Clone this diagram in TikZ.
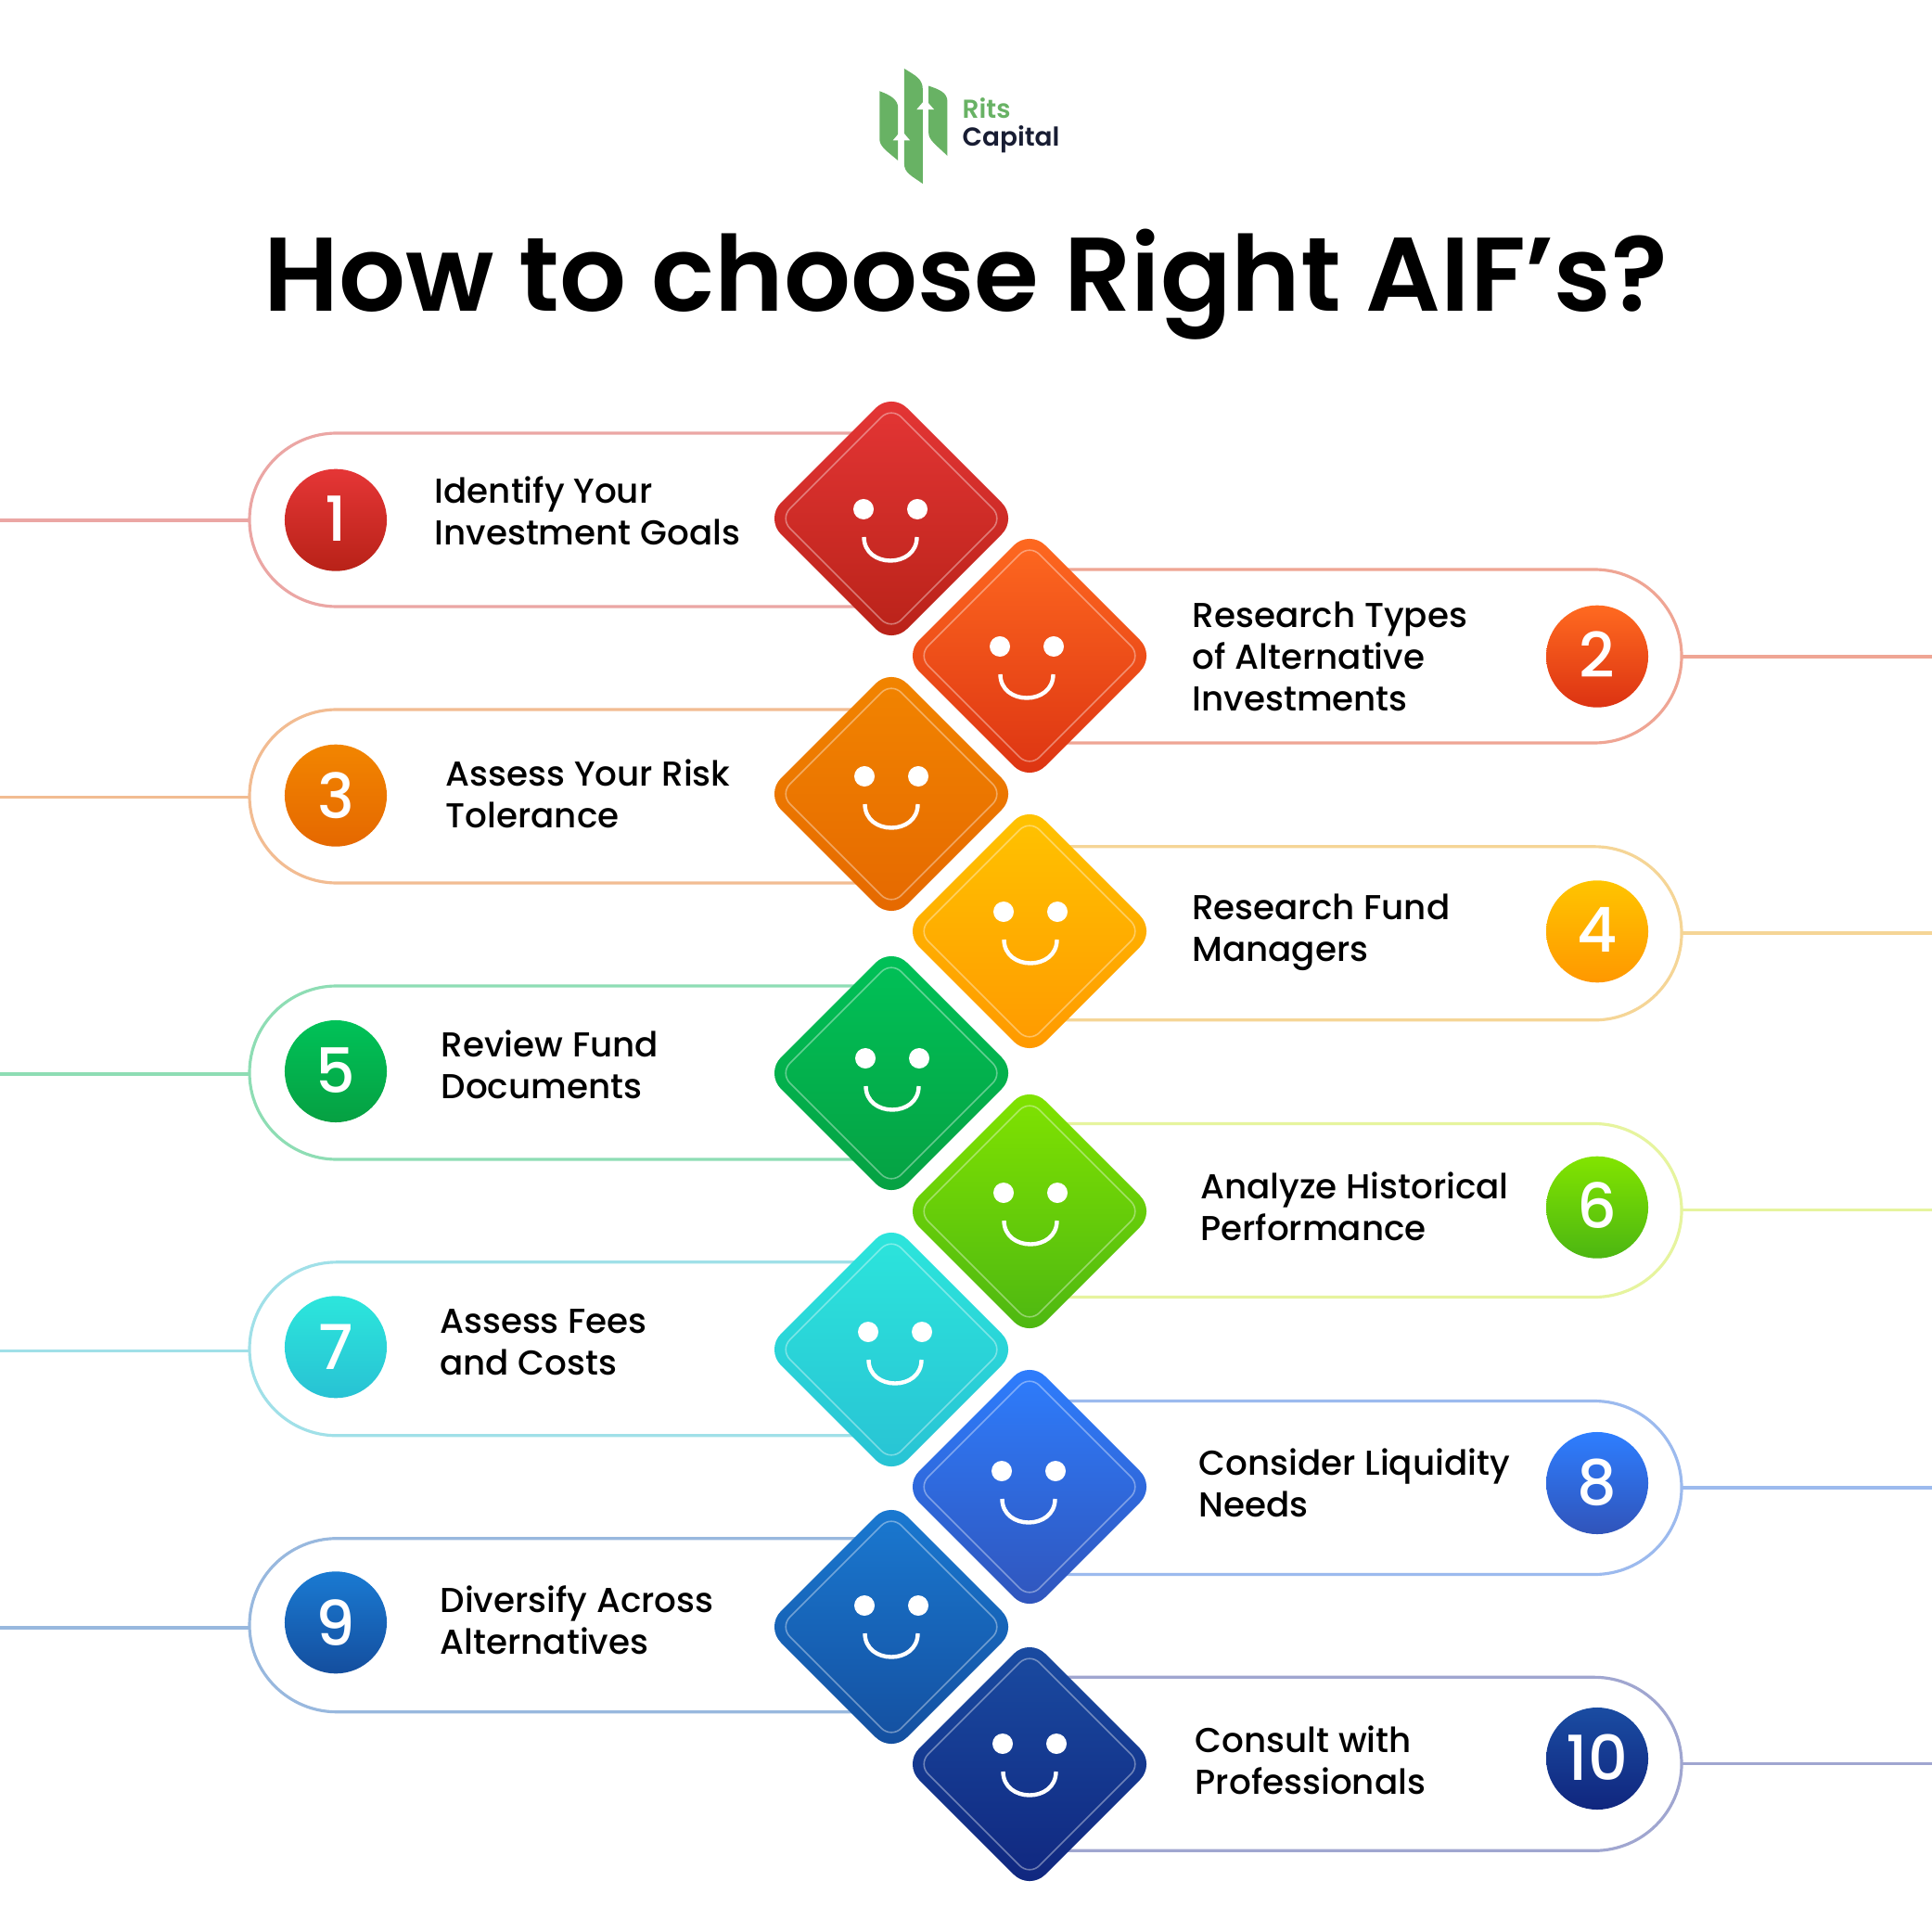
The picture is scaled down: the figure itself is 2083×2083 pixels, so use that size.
\documentclass[tikz,border=0pt]{standalone}
\usepackage{fontspec}
\setmainfont{Poppins}
\newfontfamily\medfont{Poppins Medium}
\newfontfamily\semifont{Poppins SemiBold}
\definecolor{top1}{HTML}{E53636}\definecolor{bot1}{HTML}{B82218}\definecolor{line1}{HTML}{EBA6A4}
\definecolor{top2}{HTML}{FF6A20}\definecolor{bot2}{HTML}{DC3312}\definecolor{line2}{HTML}{EFA594}
\definecolor{top3}{HTML}{F28500}\definecolor{bot3}{HTML}{E56800}\definecolor{line3}{HTML}{F2BC92}
\definecolor{top4}{HTML}{FFC400}\definecolor{bot4}{HTML}{FF9800}\definecolor{line4}{HTML}{F5D596}
\definecolor{top5}{HTML}{00C258}\definecolor{bot5}{HTML}{06A042}\definecolor{line5}{HTML}{8EDDB4}
\definecolor{top6}{HTML}{82E400}\definecolor{bot6}{HTML}{4CB612}\definecolor{line6}{HTML}{E6F49E}
\definecolor{top7}{HTML}{2CE6DC}\definecolor{bot7}{HTML}{28C2D4}\definecolor{line7}{HTML}{A0E0E8}
\definecolor{top8}{HTML}{2E7EFF}\definecolor{bot8}{HTML}{3054BA}\definecolor{line8}{HTML}{9CBAEE}
\definecolor{top9}{HTML}{1A7AD2}\definecolor{bot9}{HTML}{144E9E}\definecolor{line9}{HTML}{98B8DE}
\definecolor{top10}{HTML}{1A4CA2}\definecolor{bot10}{HTML}{10267E}\definecolor{line10}{HTML}{A0A6D0}
\definecolor{logogreen}{HTML}{68B264}
\definecolor{logonavy}{HTML}{181D33}
\tikzset{
  capline/.style={line width=0.9pt},
  numdisc/.style={circle,minimum size=1.10cm,inner sep=0pt,text=white,
    font=\medfont\fontsize{19}{19}\selectfont},
  itemtext/.style={anchor=west,align=left,inner sep=0pt,text=black,yshift=-0.066cm,
    font=\medfont\fontsize{10.6}{12.75}\selectfont,
    execute at begin node=\strut,execute at end node=\strut},
  facemark/.style={white,line width=1.25pt},
  innerline/.style={draw=white,draw opacity=0.38,line width=0.45pt,rounded corners=0.15cm},
  logobar/.style={fill=logogreen,draw=none},
}
% #1 id, #2 diamond x, #3 diamond y, #4 face x, #5 eye y
\newcommand{\facediamond}[5]{
  \coordinate (d#1) at (#2,#3);
  \coordinate (f#1) at (#4,#5);
  \shade[top color=top#1,bottom color=bot#1,rounded corners=0.24cm]
    ([shift={(0,-136)}]d#1) -- ([shift={(136,0)}]d#1) -- ([shift={(0,136)}]d#1) -- ([shift={(-136,0)}]d#1) -- cycle;
  \draw[innerline]
    ([shift={(0,-120)}]d#1) -- ([shift={(120,0)}]d#1) -- ([shift={(0,120)}]d#1) -- ([shift={(-120,0)}]d#1) -- cycle;
  \fill[white] ([shift={(-29,0)}]f#1) circle[radius=0.11cm];
  \fill[white] ([shift={(29,0)}]f#1) circle[radius=0.11cm];
  \draw[facemark] ([shift={(-28.5,30)}]f#1) .. controls ([shift={(-28.5,64)}]f#1) and ([shift={(28.5,64)}]f#1) .. ([shift={(28.5,30)}]f#1);
}
% #1 id, #2 capsule centre y, #3 lead line y, #4 disc y, #5 digit raise in cm
\newcommand{\leftcap}[5]{
  \coordinate (in#1) at (0,#3);
  \coordinate (end#1) at (269,#3);
  \coordinate (tp#1) at (363,#2-93.5);
  \coordinate (bt#1) at (363,#2+93.5);
  \coordinate (tr#1) at (961,#2-93.5);
  \coordinate (br#1) at (961,#2+93.5);
  \draw[capline,draw=line#1] (in#1) -- (end#1);
  \draw[capline,draw=line#1] (tr#1) -- (tp#1)
    .. controls (311.4,#2-93.5) and (269,#2-51.6) .. (269,#2)
    .. controls (269,#2+51.6) and (311.4,#2+93.5) .. (bt#1) -- (br#1);
  \node[numdisc,top color=top#1,bottom color=bot#1] (n#1) at (362,#4) {\raisebox{#5cm}{#1}};
}
\newcommand{\rightcap}[5]{
  \coordinate (in#1) at (2083,#3);
  \coordinate (end#1) at (1813,#3);
  \coordinate (tp#1) at (1719,#2-93.5);
  \coordinate (bt#1) at (1719,#2+93.5);
  \coordinate (tr#1) at (1110,#2-93.5);
  \coordinate (br#1) at (1110,#2+93.5);
  \draw[capline,draw=line#1] (in#1) -- (end#1);
  \draw[capline,draw=line#1] (tr#1) -- (tp#1)
    .. controls (1770.6,#2-93.5) and (1813,#2-51.6) .. (1813,#2)
    .. controls (1813,#2+51.6) and (1770.6,#2+93.5) .. (bt#1) -- (br#1);
  \node[numdisc,top color=top#1,bottom color=bot#1] (n#1) at (1722,#4) {\raisebox{#5cm}{#1}};
}
\begin{document}
\begin{tikzpicture}[x=0.01cm,y=-0.01cm]
\useasboundingbox (0,0) rectangle (2083,2083);
\fill[white] (0,0) rectangle (2083,2083);
% logo
\begin{scope}[shift={(900,50)},x=0.003333cm,y=-0.003333cm]
  \fill[logobar] (145,145) .. controls (180,158) and (205,172) .. (205,200) -- (205,370) .. controls (170,340) and (145,325) .. (145,300) -- cycle;
  \fill[logobar] (225,72) .. controls (262,95) and (285,105) .. (285,140) -- (285,445) .. controls (250,420) and (225,410) .. (225,380) -- cycle;
  \fill[logobar] (304,128) .. controls (340,140) and (365,150) .. (365,180) -- (365,355) .. controls (330,320) and (304,305) .. (304,280) -- cycle;
  \fill[white] (216,272) -- (244,305) -- (188,305) -- cycle;
  \fill[white] (293,172) -- (322,205) -- (265,205) -- cycle;
\end{scope}
\node[anchor=base west,inner sep=0pt,text=logogreen,font=\semifont\fontsize{7.95}{8}\selectfont] (rits) at (1037,128) {Rits};
\node[anchor=base west,inner sep=0pt,text=logonavy,font=\semifont\fontsize{7.95}{8}\selectfont] (capital) at (1037,158) {Capital};
% title
\node[anchor=base,inner sep=0pt,text=black,font=\semifont\fontsize{32.1}{33}\selectfont] (title) at (1041.5,336) {How to choose Right AIF’s?};
% items
\leftcap{1}{560.5}{561}{560.7}{0.024}
\node[itemtext] (t1) at (468,551) {Identify Your\\Investment Goals};
\facediamond{1}{961}{559}{960}{549}
\rightcap{2}{707.5}{708}{707.7}{0.047}
\node[itemtext] (t2) at (1285,708) {Research Types\\of Alternative\\Investments};
\facediamond{2}{1110}{707}{1107}{697}
\leftcap{3}{858.5}{859.5}{857.7}{0.005}
\node[itemtext] (t3) at (480,856) {Assess Your Risk\\Tolerance};
\facediamond{3}{961}{856}{961}{837}
\rightcap{4}{1006.3}{1006}{1004.3}{0.031}
\node[itemtext] (t4) at (1284.5,1000) {Research Fund\\Managers};
\facediamond{4}{1110}{1004}{1111}{983}
\leftcap{5}{1156.5}{1158}{1155}{0.013}
\node[itemtext] (t5) at (475,1148) {Review Fund\\Documents};
\facediamond{5}{961}{1157}{962}{1141}
\rightcap{6}{1305}{1304.7}{1301.7}{0.047}
\node[itemtext] (t6) at (1293.5,1301) {Analyze Historical\\Performance};
\facediamond{6}{1110}{1306}{1111}{1286}
\leftcap{7}{1454.3}{1456.3}{1452.3}{0}
\node[itemtext] (t7) at (473.5,1447) {Assess Fees\\and Costs};
\facediamond{7}{961}{1455}{965}{1436}
\rightcap{8}{1604}{1604}{1599}{0.023}
\node[itemtext] (t8) at (1292,1599) {Consider Liquidity\\Needs};
\facediamond{8}{1110}{1603}{1109}{1586}
\leftcap{9}{1752.2}{1755}{1749.3}{0}
\node[itemtext] (t9) at (474,1746.5) {Diversify Across\\Alternatives};
\facediamond{9}{961}{1754}{961}{1731}
\rightcap{10}{1901.8}{1901.7}{1896}{0.023}
\node[itemtext] (t10) at (1288,1898) {Consult with\\Professionals};
\facediamond{10}{1110}{1902}{1110}{1880}
\end{tikzpicture}
\end{document}
